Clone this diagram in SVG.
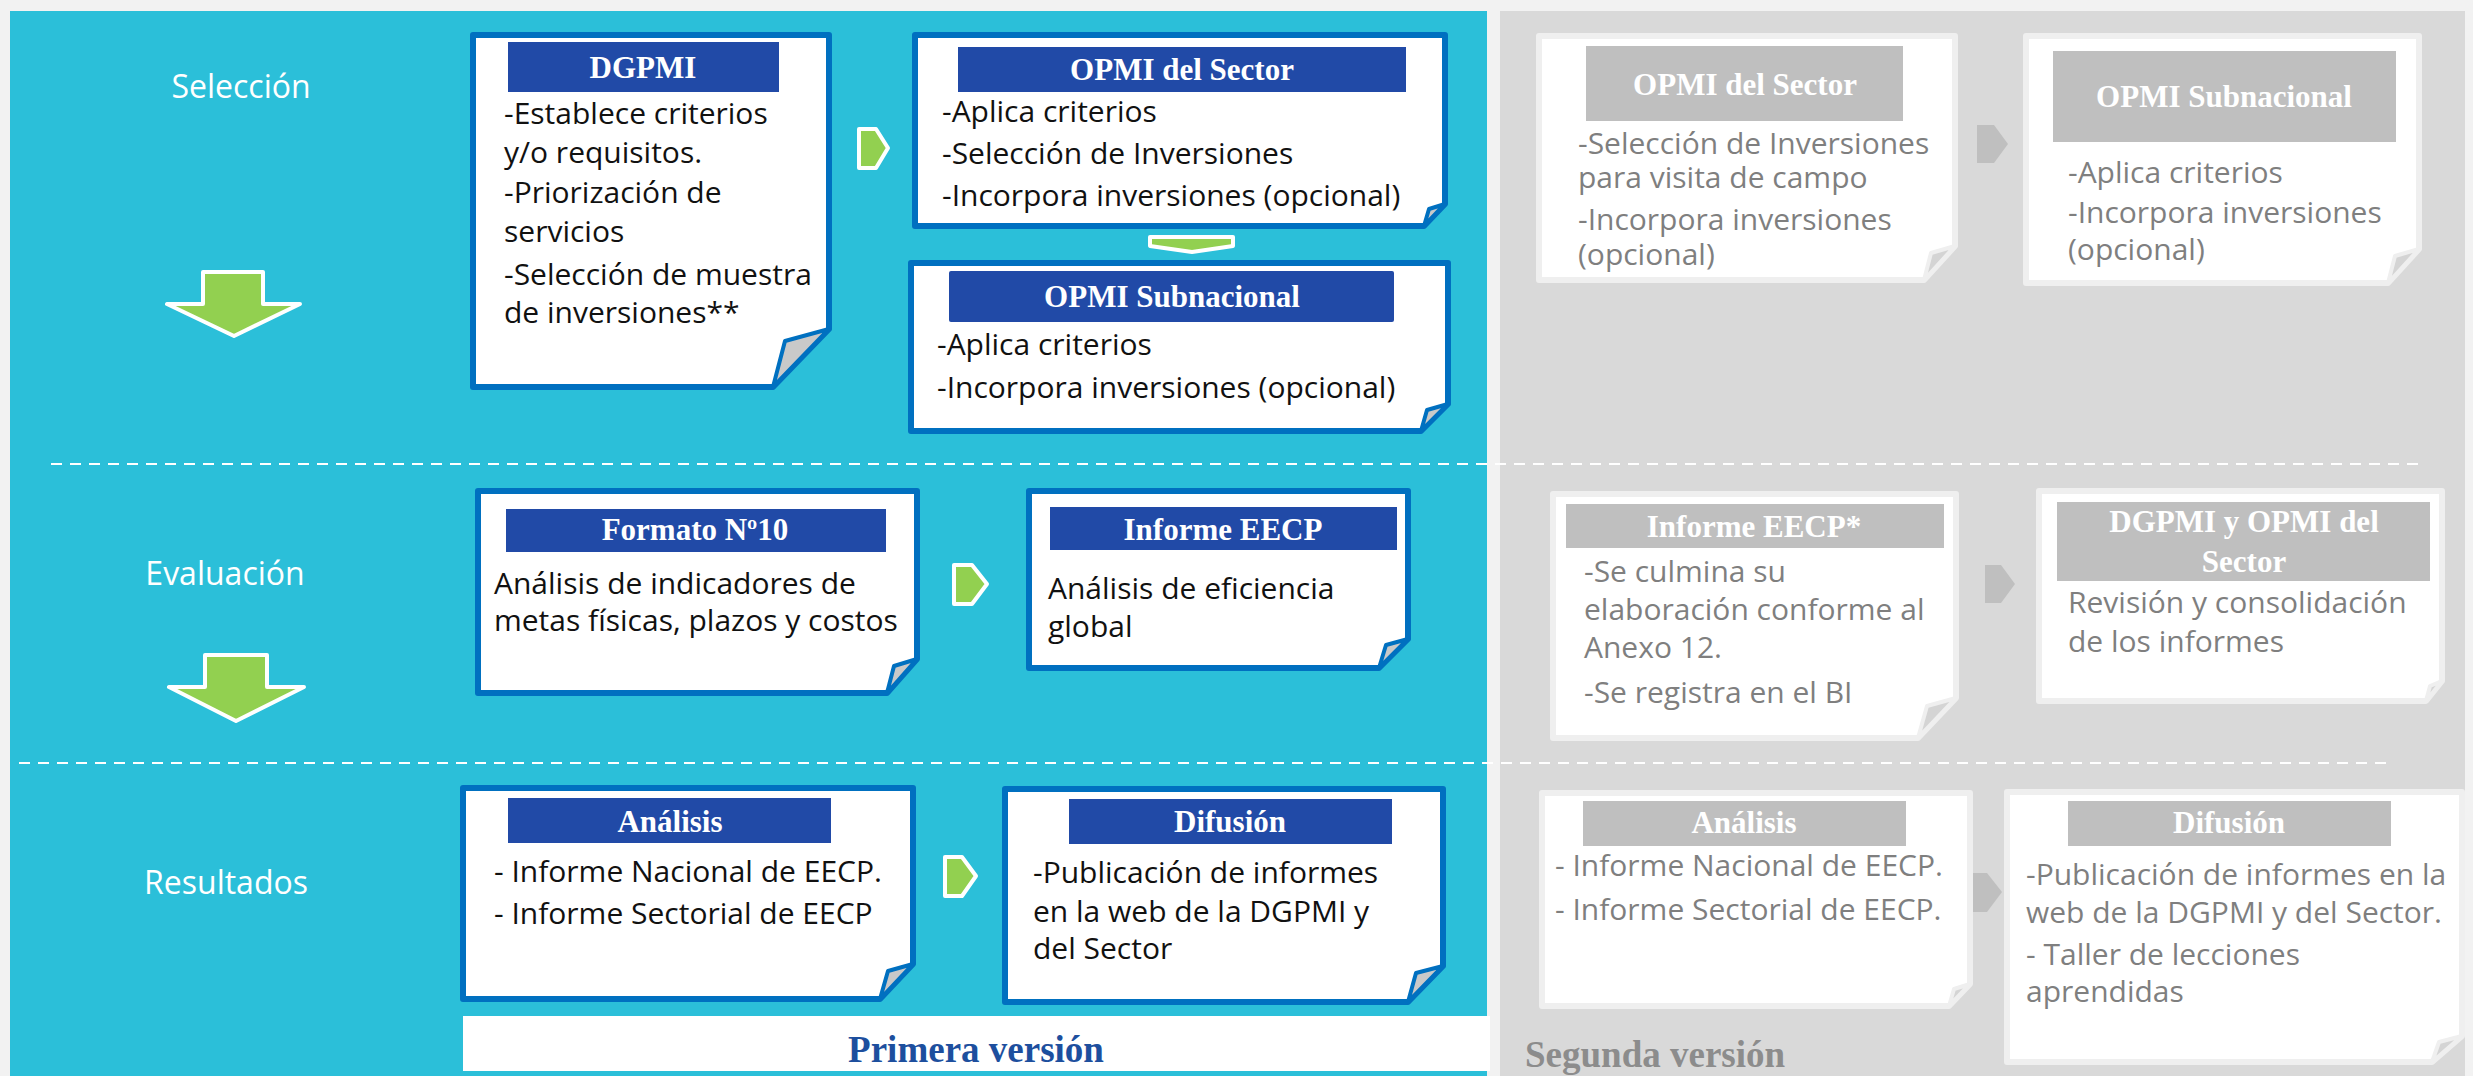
<svg xmlns="http://www.w3.org/2000/svg" width="2473" height="1076" viewBox="0 0 2473 1076">
<style>
.pg{fill:#fff;stroke:#0070c0;stroke-width:6;stroke-linejoin:round}
.fd{fill:#c9c9c9;stroke:#0070c0;stroke-width:4;stroke-linejoin:round}
.pg2{fill:#fff;stroke:#efefef;stroke-width:6;stroke-linejoin:round}
.fd2{fill:#d4d4d4;stroke:#efefef;stroke-width:4;stroke-linejoin:round}
.hd{fill:#214aa7}
.hd2{fill:#bfbfbf}
.ht{font-family:"Liberation Serif",serif;font-weight:bold;font-size:31px;fill:#fff;text-anchor:middle}
.bt{font-family:"Open Sans","Noto Sans",sans-serif;font-size:30px;fill:#111}
.bt2{font-family:"Open Sans","Noto Sans",sans-serif;font-size:30px;fill:#7f7f7f}
.lb{font-family:"Open Sans","Noto Sans",sans-serif;font-size:32px;fill:#fff;text-anchor:middle}
.ga{fill:#92d050;stroke:#fff;stroke-width:4;stroke-linejoin:round}
.gr{fill:#bfbfbf}
.dash{stroke:#fff;stroke-width:2;stroke-dasharray:11 8;fill:none}
</style>
<rect x="0" y="0" width="2473" height="1076" fill="#f2f2f2"/>
<rect x="10" y="11" width="1477" height="1065" fill="#2bbfd9"/>
<rect x="1500" y="11" width="965" height="1065" fill="#d9d9d9"/>
<rect x="463" y="1016" width="1027" height="55" fill="#fff"/>
<text x="976" y="1062" font-family="Liberation Serif, serif" font-weight="bold" font-size="37" fill="#1d4f9e" text-anchor="middle">Primera versión</text>
<text x="1525" y="1067" font-family="Liberation Serif, serif" font-weight="bold" font-size="37" fill="#8c8c8c">Segunda versión</text>

<text class="lb" x="241" y="98">Selección</text>
<text class="lb" x="225" y="585">Evaluación</text>
<text class="lb" x="226" y="894">Resultados</text>

<g id="connectors">
<line class="dash" x1="51" y1="464" x2="2425" y2="464"/>
<line class="dash" x1="19" y1="763" x2="2391" y2="763"/>
<path class="ga" d="M203,272 H263 V304 H300 L234,336 L167,304 H203 Z"/>
<path class="ga" d="M205,655 H267 V687 H304 L236,721 L169,687 H205 Z"/>
<path class="ga" d="M859,129 H876 L888,148 L876,168 H859 Z"/>
<path class="ga" d="M954,565 H972 L987,584 L972,604 H954 Z"/>
<path class="ga" d="M945,857 H962 L976,876 L962,896 H945 Z"/>
<path class="ga" d="M1150,237 H1233 V246 L1192,252 L1150,246 Z"/>
<path class="gr" d="M1977,125 H1994 L2008,144 L1994,163 H1977 Z"/>
<path class="gr" d="M1985,565 H2001 L2015,584 L2001,603 H1985 Z"/>
<path class="gr" d="M1970,873 H1987 L2002,892 L1987,912 H1970 Z"/>
</g>

<g id="n-dgpmi">
<path class="pg" d="M473,35 H829 V329 L773,387 H473 Z"/>
<path class="fd" d="M829,329 L785,341 L773,387 Z"/>
<rect class="hd" x="508" y="42" width="271" height="50"/>
<text class="ht" x="643" y="78">DGPMI</text>
<text class="bt" x="504" y="124">-Establece criterios</text>
<text class="bt" x="504" y="163">y/o requisitos.</text>
<text class="bt" x="504" y="203">-Priorización de</text>
<text class="bt" x="504" y="242">servicios</text>
<text class="bt" x="504" y="285">-Selección de muestra</text>
<text class="bt" x="504" y="323">de inversiones**</text>
</g>

<g id="n-opmi-sector">
<path class="pg" d="M915,35 H1445 V204 L1424,226 H915 Z"/>
<path class="fd" d="M1445,204 L1429,209 L1424,226 Z"/>
<rect class="hd" x="958" y="47" width="448" height="45"/>
<text class="ht" x="1182" y="80">OPMI del Sector</text>
<text class="bt" x="942" y="122" font-size="29">-Aplica criterios</text>
<text class="bt" x="942" y="164" font-size="29">-Selección de Inversiones</text>
<text class="bt" x="942" y="206" font-size="29">-Incorpora inversiones (opcional)</text>
</g>

<g id="n-opmi-sub">
<path class="pg" d="M911,263 H1448 V404 L1421,431 H911 Z"/>
<path class="fd" d="M1448,404 L1427,410 L1421,431 Z"/>
<rect class="hd" x="949" y="271" width="445" height="51" rx="2"/>
<text class="ht" x="1172" y="307">OPMI Subnacional</text>
<text class="bt" x="937" y="355">-Aplica criterios</text>
<text class="bt" x="937" y="398">-Incorpora inversiones (opcional)</text>
</g>

<g id="n-formato">
<path class="pg" d="M478,491 H917 V659 L887,693 H478 Z"/>
<path class="fd" d="M917,659 L894,666 L887,693 Z"/>
<rect class="hd" x="506" y="509" width="380" height="43"/>
<text class="ht" x="695" y="540">Formato Nº10</text>
<text class="bt" x="494" y="594">Análisis de indicadores de</text>
<text class="bt" x="494" y="631">metas físicas, plazos y costos</text>
</g>

<g id="n-informe">
<path class="pg" d="M1029,491 H1408 V639 L1379,668 H1029 Z"/>
<path class="fd" d="M1408,639 L1386,645 L1379,668 Z"/>
<rect class="hd" x="1050" y="507" width="347" height="43"/>
<text class="ht" x="1223" y="540">Informe EECP</text>
<text class="bt" x="1048" y="599">Análisis de eficiencia</text>
<text class="bt" x="1048" y="637">global</text>
</g>

<g id="n-analisis">
<path class="pg" d="M463,788 H913 V964 L880,999 H463 Z"/>
<path class="fd" d="M913,964 L888,971 L880,999 Z"/>
<rect class="hd" x="508" y="798" width="323" height="45"/>
<text class="ht" x="670" y="832">Análisis</text>
<text class="bt" x="494" y="882">- Informe Nacional de EECP.</text>
<text class="bt" x="494" y="924">- Informe Sectorial de EECP</text>
</g>

<g id="n-difusion">
<path class="pg" d="M1005,789 H1443 V966 L1408,1002 H1005 Z"/>
<path class="fd" d="M1443,966 L1416,973 L1408,1002 Z"/>
<rect class="hd" x="1069" y="799" width="323" height="45"/>
<text class="ht" x="1230" y="832">Difusión</text>
<text class="bt" x="1033" y="883">-Publicación de informes</text>
<text class="bt" x="1033" y="922">en la web de la DGPMI y</text>
<text class="bt" x="1033" y="959">del Sector</text>
</g>

<g id="n2-opmi-sector">
<path class="pg2" d="M1539,36 H1955 V246 L1924,280 H1539 Z"/>
<path class="fd2" d="M1955,246 L1931,253 L1924,280 Z"/>
<rect class="hd2" x="1586" y="46" width="317" height="75"/>
<text class="ht" x="1745" y="95">OPMI del Sector</text>
<text class="bt2" x="1578" y="154">-Selección de Inversiones</text>
<text class="bt2" x="1578" y="188">para visita de campo</text>
<text class="bt2" x="1578" y="230">-Incorpora inversiones</text>
<text class="bt2" x="1578" y="265">(opcional)</text>
</g>

<g id="n2-opmi-sub">
<path class="pg2" d="M2026,36 H2419 V249 L2388,283 H2026 Z"/>
<path class="fd2" d="M2419,249 L2395,256 L2388,283 Z"/>
<rect class="hd2" x="2053" y="51" width="343" height="91"/>
<text class="ht" x="2224" y="107">OPMI Subnacional</text>
<text class="bt2" x="2068" y="183">-Aplica criterios</text>
<text class="bt2" x="2068" y="223">-Incorpora inversiones</text>
<text class="bt2" x="2068" y="260">(opcional)</text>
</g>

<g id="n2-informe">
<path class="pg2" d="M1553,494 H1956 V698 L1918,738 H1553 Z"/>
<path class="fd2" d="M1956,698 L1927,706 L1918,738 Z"/>
<rect class="hd2" x="1566" y="504" width="378" height="44"/>
<text class="ht" x="1754" y="537">Informe EECP*</text>
<text class="bt2" x="1584" y="582">-Se culmina su</text>
<text class="bt2" x="1584" y="620">elaboración conforme al</text>
<text class="bt2" x="1584" y="658">Anexo 12.</text>
<text class="bt2" x="1584" y="703">-Se registra en el BI</text>
</g>

<g id="n2-dgpmi-opmi">
<path class="pg2" d="M2039,491 H2442 V681 L2426,701 H2039 Z"/>
<path class="fd2" d="M2442,681 L2430,686 L2426,701 Z"/>
<rect class="hd2" x="2057" y="502" width="373" height="79"/>
<text class="ht" x="2244" y="532">DGPMI y OPMI del</text>
<text class="ht" x="2244" y="572">Sector</text>
<text class="bt2" x="2068" y="613">Revisión y consolidación</text>
<text class="bt2" x="2068" y="652">de los informes</text>
</g>

<g id="n2-analisis">
<path class="pg2" d="M1542,793 H1970 V984 L1949,1006 H1542 Z"/>
<path class="fd2" d="M1970,984 L1954,989 L1949,1006 Z"/>
<rect class="hd2" x="1583" y="801" width="323" height="45"/>
<text class="ht" x="1744" y="833">Análisis</text>
<text class="bt2" x="1555" y="876">- Informe Nacional de EECP.</text>
<text class="bt2" x="1555" y="920">- Informe Sectorial de EECP.</text>
</g>

<g id="n2-difusion">
<path class="pg2" d="M2007,792 H2462 V1036 L2432,1062 H2007 Z"/>
<path class="fd2" d="M2462,1036 L2439,1042 L2432,1062 Z"/>
<rect class="hd2" x="2068" y="801" width="323" height="45"/>
<text class="ht" x="2229" y="833">Difusión</text>
<text class="bt2" x="2026" y="885">-Publicación de informes en la</text>
<text class="bt2" x="2026" y="923">web de la DGPMI y del Sector.</text>
<text class="bt2" x="2026" y="965">- Taller de lecciones</text>
<text class="bt2" x="2026" y="1002">aprendidas</text>
</g>
</svg>
